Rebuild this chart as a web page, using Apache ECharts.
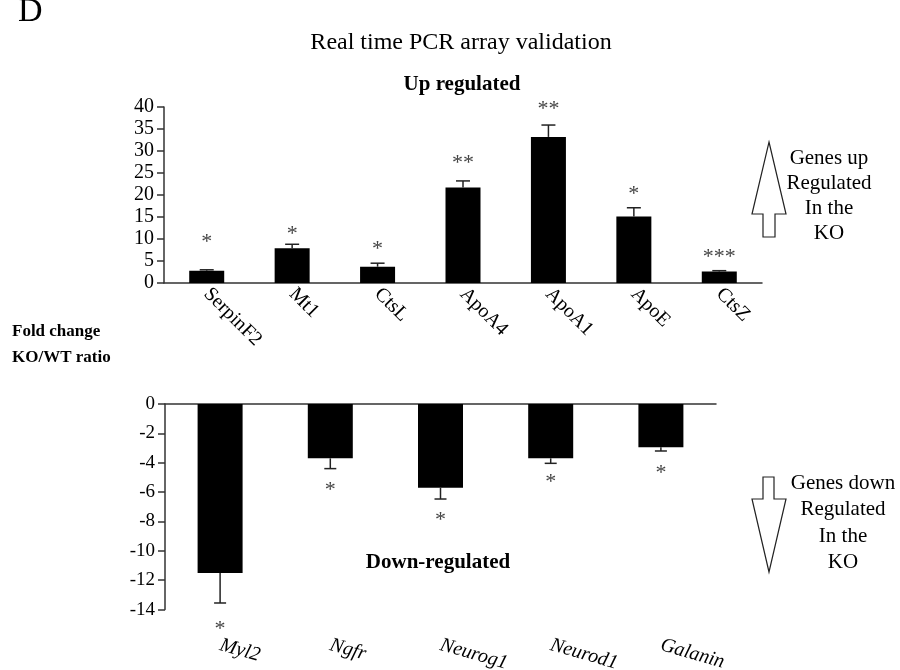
<!doctype html>
<html>
<head>
<meta charset="UTF-8">
<title>Real time PCR array validation</title>
<script src="https://cdn.jsdelivr.net/npm/echarts@6/dist/echarts.min.js"></script>
<style>
  html, body { margin: 0; padding: 0; background: #fff; }
  #main { width: 900px; height: 670px; }
</style>
</head>
<body>
<div id="main"></div>
<script type="text/javascript">
// up regulated genes
var upGenes = ['SerpinF2', 'Mt1', 'CtsL', 'ApoA4', 'ApoA1', 'ApoE', 'CtsZ'];
var upValues = [2.8, 7.9, 3.7, 21.7, 33.2, 15.1, 2.6];
var upErrTop = [3.0, 8.8, 4.5, 23.2, 35.9, 17.1, 2.8];
var upStars = ['*', '*', '*', '**', '**', '*', '***'];
var upStarY = [10.5, 12.3, 8.9, 28.4, 40.7, 21.4, 7.1];
var upTicks = [0, 40, 5];

// down regulated genes
var downGenes = ['Myl2', 'Ngfr', 'Neurog1', 'Neurod1', 'Galanin'];
var downValues = [-11.5, -3.7, -5.7, -3.7, -2.95];
var downErrBottom = [-13.55, -4.4, -6.47, -4.04, -3.2];
var downStars = ['*', '*', '*', '*', '*'];
var downStarY = [-15.0, -5.5, -7.6, -5.0, -4.4];
var downTicks = [-14, 0, 2];

var serif = '"Liberation Serif", "DejaVu Serif", serif';
var myChart = echarts.init(document.getElementById('main'));

// error bar + significance stars, drawn through the axis coords
function errRender(ends, stars, starY, cap) {
    return function (params, api) {
        var i = params.dataIndex;
        var p0 = api.coord([i, api.value(1)]);
        var p1 = api.coord([i, ends[i]]);
        var ps = api.coord([i, starY[i]]);
        return {
            type: 'group',
            children: [
                { type: 'line', shape: { x1: p0[0], y1: p0[1], x2: p1[0], y2: p1[1] },
                  style: { stroke: '#222', lineWidth: 1.5 } },
                { type: 'line', shape: { x1: p1[0] - cap, y1: p1[1], x2: p1[0] + cap, y2: p1[1] },
                  style: { stroke: '#222', lineWidth: 1.5 } },
                // the asterisk sits high in the em box, push it down a bit
                { type: 'text', x: ps[0], y: ps[1] + 5,
                  style: { text: stars[i], font: '22px ' + serif, fill: '#444',
                           align: 'center', verticalAlign: 'middle' } }
            ]
        };
    };
}

function idxData(vals) {
    return vals.map(function (v, i) { return [i, v]; });
}

var axisLineStyle = { color: '#333', width: 1.5 };

var option = {
    animation: false,
    grid: [
        { left: 164, top: 107, width: 598, height: 176, outerBoundsMode: 'none' },
        { left: 165, top: 404, width: 551, height: 205.6, outerBoundsMode: 'none' }
    ],
    xAxis: [
        {
            gridIndex: 0, type: 'category', data: upGenes,
            axisLine: { lineStyle: axisLineStyle }, axisTick: { show: false },
            axisLabel: { rotate: -45, margin: 8, fontFamily: serif, fontSize: 20, color: '#000' }
        },
        {
            gridIndex: 1, type: 'category', data: downGenes, position: 'bottom',
            axisLine: { show: false }, axisTick: { show: false },
            axisLabel: { rotate: -16, margin: 35, fontFamily: serif, fontSize: 20,
                         fontStyle: 'italic', color: '#000' }
        },
        {
            gridIndex: 1, type: 'category', data: downGenes, position: 'top',
            axisLine: { lineStyle: axisLineStyle }, axisTick: { show: false },
            axisLabel: { show: false }
        }
    ],
    yAxis: [
        {
            gridIndex: 0, type: 'value', min: upTicks[0], max: upTicks[1], interval: upTicks[2],
            splitLine: { show: false },
            axisLine: { show: true, lineStyle: axisLineStyle },
            axisTick: { show: true, length: 7, lineStyle: axisLineStyle },
            axisLabel: { margin: 10, fontFamily: serif, fontSize: 20, color: '#000' }
        },
        {
            gridIndex: 1, type: 'value', min: downTicks[0], max: downTicks[1], interval: downTicks[2],
            splitLine: { show: false },
            axisLine: { show: true, onZero: false, lineStyle: axisLineStyle },
            axisTick: { show: true, length: 7, lineStyle: axisLineStyle },
            axisLabel: { margin: 10, fontFamily: serif, fontSize: 19, color: '#000' }
        }
    ],
    series: [
        {
            type: 'bar', xAxisIndex: 0, yAxisIndex: 0, data: upValues,
            barWidth: 35, itemStyle: { color: '#000' }
        },
        {
            type: 'custom', xAxisIndex: 0, yAxisIndex: 0, data: idxData(upValues),
            renderItem: errRender(upErrTop, upStars, upStarY, 7), z: 5
        },
        {
            type: 'bar', xAxisIndex: 1, yAxisIndex: 1, data: downValues,
            barWidth: 45, itemStyle: { color: '#000' }
        },
        {
            type: 'custom', xAxisIndex: 1, yAxisIndex: 1, data: idxData(downValues),
            renderItem: errRender(downErrBottom, downStars, downStarY, 6), z: 5
        }
    ],
    graphic: [
        { type: 'text', left: 18, top: -5, style: { text: 'D', font: '34px ' + serif, fill: '#000' } },
        { type: 'text', x: 461, y: 43, style: { text: 'Real time PCR array validation', font: '24px ' + serif,
          fill: '#000', align: 'center', verticalAlign: 'middle' } },
        { type: 'text', x: 462, y: 85, style: { text: 'Up regulated', font: 'bold 21px ' + serif,
          fill: '#000', align: 'center', verticalAlign: 'middle' } },
        { type: 'text', x: 438, y: 563, style: { text: 'Down-regulated', font: 'bold 21px ' + serif,
          fill: '#000', align: 'center', verticalAlign: 'middle' } },
        { type: 'text', x: 12, y: 345, style: { text: 'Fold change\nKO/WT ratio', font: 'bold 17px ' + serif,
          fill: '#000', align: 'left', verticalAlign: 'middle', lineHeight: 26 } },
        { type: 'polygon', shape: { points: [[769, 142], [786, 214], [775, 214], [775, 237], [763, 237], [763, 214], [752, 214]] },
          style: { fill: '#fff', stroke: '#222', lineWidth: 1.2 } },
        { type: 'text', x: 829, y: 196, style: { text: 'Genes up\nRegulated\nIn the\nKO', font: '21px ' + serif,
          fill: '#000', align: 'center', verticalAlign: 'middle', lineHeight: 25 } },
        { type: 'polygon', shape: { points: [[763, 477], [774, 477], [774, 499], [786, 499], [769, 572], [752, 499], [763, 499]] },
          style: { fill: '#fff', stroke: '#222', lineWidth: 1.2 } },
        { type: 'text', x: 843, y: 523, style: { text: 'Genes down\nRegulated\nIn the\nKO', font: '21px ' + serif,
          fill: '#000', align: 'center', verticalAlign: 'middle', lineHeight: 26.5 } }
    ]
};
myChart.setOption(option);
</script>
</body>
</html>
